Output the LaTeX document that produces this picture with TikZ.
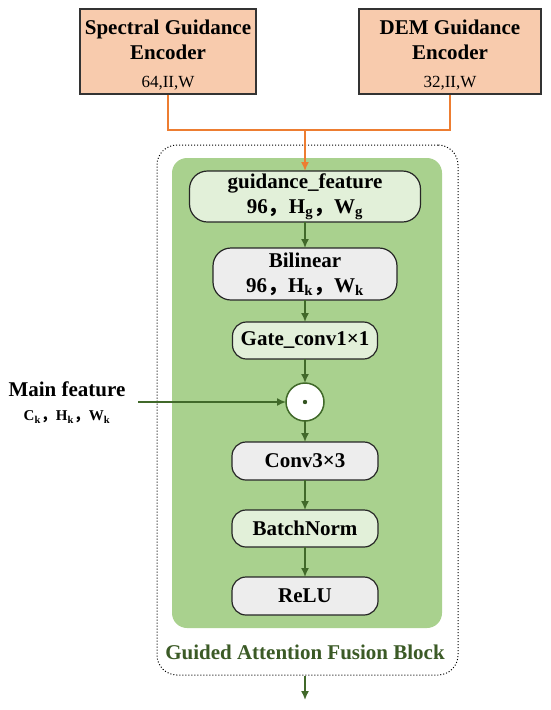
\documentclass[tikz,border=0pt]{standalone}
\usepackage{fontspec}
\setmainfont{Liberation Serif}
\newfontfamily\cjk{Noto Sans CJK SC}
\usepackage{xcolor}
\usepackage{tikz}
\usetikzlibrary{arrows.meta, positioning}

\definecolor{peach}{HTML}{F8CBAD}
\definecolor{orangeline}{HTML}{ED7D31}
\definecolor{blockgreen}{HTML}{A9D18E}
\definecolor{lightgreen}{HTML}{E2F0D9}
\definecolor{lightgray}{HTML}{EDEDED}
\definecolor{darkgreen}{HTML}{41692A}
\definecolor{titlegreen}{HTML}{3B5A26}

\newcommand{\fcomma}{{\cjk ，}}

\begin{document}
\begin{tikzpicture}[x=1pt, y=-1pt,
    encbox/.style={rectangle, draw=black!80, line width=1.2pt, fill=peach, minimum height=85pt, text centered, align=center, font=\bfseries\fontsize{21}{25}\selectfont},
    opbox/.style={rectangle, draw=black!85, line width=1.2pt, rounded corners=14pt, minimum height=37pt, align=center, font=\bfseries\fontsize{21}{25}\selectfont, inner sep=2pt, outer sep=0pt},
    arrow/.style={-{Latex[length=9pt, width=8pt]}, darkgreen, line width=1.6pt},
    guideline/.style={draw=orangeline, line width=1.5pt}
]
\useasboundingbox (0,0) rectangle (550,710);

% block background
\node[rectangle, draw, dotted, line width=1pt, rounded corners=20pt, minimum width=301pt, minimum height=530pt] (block) at (307.5,410) {};
\node[rectangle, fill=blockgreen, rounded corners=15pt, minimum width=270pt, minimum height=470pt] (green) at (307,393) {};

% encoders
\node[encbox, minimum width=176pt] (spec) at (168,51.5) {\rule{0pt}{21pt}Spectral Guidance\\Encoder\\[3pt]{\mdseries\fontsize{17}{20}\selectfont 64,II,W}};
\node[encbox, minimum width=182pt] (dem) at (450,51.5) {\rule{0pt}{21pt}DEM Guidance\\Encoder\\[3pt]{\mdseries\fontsize{17}{20}\selectfont 32,II,W}};

% fusion steps
\node[opbox, fill=lightgreen, minimum width=231pt, minimum height=51pt, rounded corners=18pt] (guide) at (305,196.5) {guidance\_feature\\96\fcomma H\textsubscript{g}\fcomma W\textsubscript{g}};
\node[opbox, fill=lightgray, minimum width=184pt, minimum height=52pt, rounded corners=18pt, below=26pt of guide] (bil) {Bilinear\\96\fcomma H\textsubscript{k}\fcomma W\textsubscript{k}};
\node[opbox, fill=lightgreen, minimum width=145pt, below=22pt of bil] (gate) {Gate\_conv1×1};
\node[circle, draw=darkgreen, line width=1.5pt, fill=white, minimum size=38pt, inner sep=0pt, outer sep=0pt, below=24pt of gate] (mul) {};
\node[opbox, fill=lightgray, minimum width=146pt, minimum height=38pt, below=21pt of mul] (conv) {Conv3×3};
\node[opbox, fill=lightgreen, minimum width=146pt, below=30pt of conv] (bn) {BatchNorm};
\node[opbox, fill=lightgray, minimum width=146pt, minimum height=38pt, below=30pt of bn] (relu) {ReLU};
\fill[darkgreen!80!black] (mul) circle (2.2pt);

\node[font=\bfseries\fontsize{21}{25}\selectfont, text=titlegreen] (title) at (305,652) {Guided Attention Fusion Block};

% main feature input
\node[font=\bfseries\fontsize{21}{25}\selectfont] (mainlbl) at (67,389) {Main feature};
\node[font=\bfseries\fontsize{15}{18}\selectfont] (mainsize) at (67,417) {C\textsubscript{k}\fcomma H\textsubscript{k}\fcomma W\textsubscript{k}};
\coordinate (mainin) at (138,402);
\coordinate (join) at (305,130);
\coordinate (out) at (305,700);

\draw[guideline] (spec.south) |- (join) -| (dem.south);
\draw[guideline, -{Latex[length=9pt, width=8pt]}] (join) -- (guide.north);
\draw[arrow] (guide) -- (bil);
\draw[arrow] (bil) -- (gate);
\draw[arrow] (gate) -- (mul);
\draw[arrow] (mul) -- (conv);
\draw[arrow] (conv) -- (bn);
\draw[arrow] (bn) -- (relu);
\draw[arrow] (mainin |- mul.west) -- (mul.west);
\draw[arrow] (relu |- block.south) -- (out);
\end{tikzpicture}
\end{document}
